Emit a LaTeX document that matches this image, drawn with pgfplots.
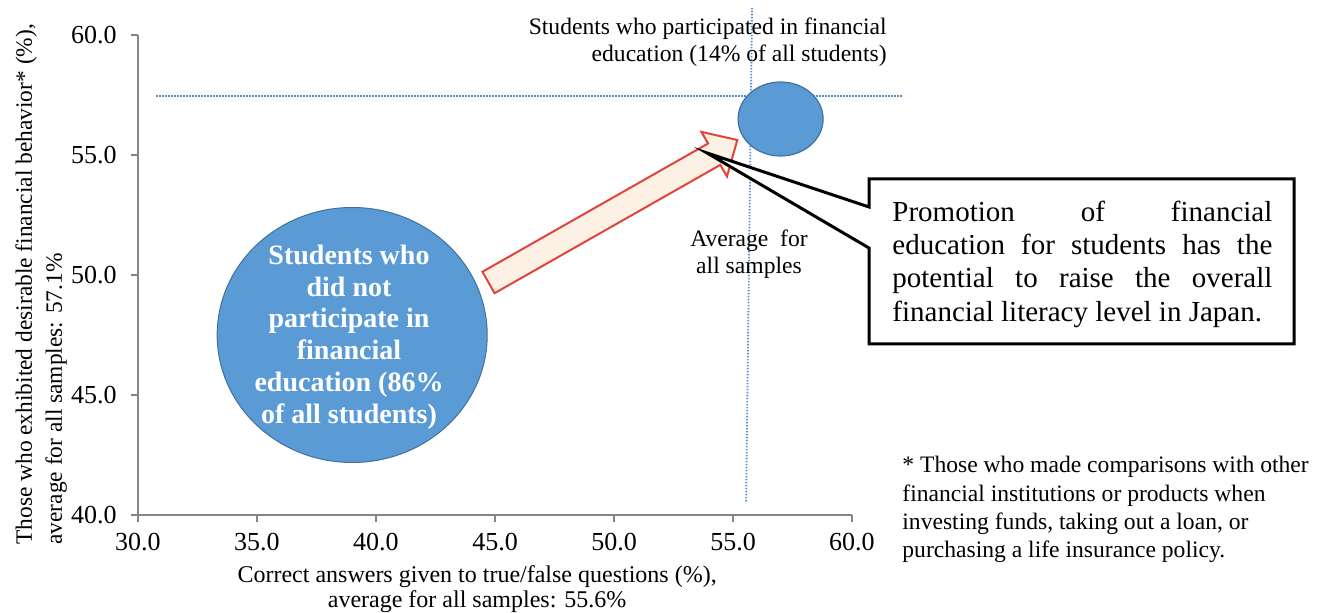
\documentclass[border=0pt]{standalone}
\usepackage{fontspec}
\setmainfont{Liberation Serif}
\usepackage{pgfplots}
\pgfplotsset{compat=1.18}
\definecolor{bubble}{HTML}{5B9BD5}
\definecolor{bubbleedge}{HTML}{41719C}
\definecolor{axisgray}{HTML}{868686}
\definecolor{avgblue}{HTML}{4F8FD3}
\definecolor{arrowfill}{HTML}{FDF0E4}
\definecolor{arrowedge}{HTML}{E0443C}
\begin{document}
\begin{tikzpicture}
\useasboundingbox (0,0) rectangle (658.5pt,306.5pt);
\begin{axis}[
  at={(69pt,49pt)}, anchor=south west,
  scale only axis, width=357pt, height=240pt,
  xmin=30, xmax=60, ymin=40, ymax=60,
  axis lines=left,
  axis line style={draw=axisgray, line width=1pt, -},
  xtick={30,35,40,45,50,55,60},
  ytick={40,45,50,55,60},
  tick align=outside,
  major tick length=3.5pt,
  tick style={draw=axisgray, line width=1pt},
  tick label style={font=\fontsize{13}{13}\selectfont, inner sep=0pt},
  xticklabel style={anchor=north, yshift=-5.5pt},
  yticklabel style={anchor=east, xshift=-7pt},
  /pgf/number format/fixed,
  /pgf/number format/fixed zerofill,
  /pgf/number format/precision=1,
  /pgf/number format/assume math mode=true,
  xlabel={Correct answers given to true/false questions (\%),\\average for all samples: 55.6\%},
  xlabel style={align=center, inner sep=0pt, font=\fontsize{12}{12.5}\selectfont,
    at={(axis description cs:0.475,-0.105)}, anchor=north},
  ylabel={Those who exhibited desirable financial behavior* (\%),\\average for all samples: 57.1\%},
  ylabel style={align=left, inner sep=0pt, font=\fontsize{11.7}{15}\selectfont,
    at={(axis description cs:-0.1723,-0.0625)}, anchor=north west},
  clip=false,
]
% average lines
\addplot[avgblue, line width=0.9pt, dash pattern=on 0.75pt off 0.75pt] coordinates {(30.76,57.46) (62.14,57.46)};
\addplot[avgblue, line width=0.9pt, dash pattern=on 0.75pt off 0.75pt] coordinates {(55.80,61.125) (55.55,40.5)};
% bubbles
\addplot[only marks, mark=*, mark size=63.75pt,
  mark options={xscale=1.059, fill=bubble, draw=bubbleedge, line width=0.5pt}]
  coordinates {(39.0,47.5)};
\addplot[only marks, mark=*, mark size=18.5pt,
  mark options={xscale=1.149, fill=bubble, draw=bubbleedge, line width=0.6pt}]
  coordinates {(57.0,56.5)};
\end{axis}
\begin{scope}[x=0.5pt, y=-0.5pt, yshift=306.5pt]
% arrow
\draw[arrowedge, line width=1pt, fill=arrowfill, line join=miter]
  (482.4,271.8) -- (708.1,143.5) -- (701.4,131.9) -- (737.3,140) -- (727.0,176.5) -- (720.3,164.9) -- (494.6,293.2) -- cycle;
% callout
\draw[black, line width=1.5pt, fill=white, line join=miter]
  (869,179) -- (1294,179) -- (1294,344) -- (869,344) -- (869,248) -- (707,153) -- (869,207) -- cycle;
\begin{scope}[every node/.style={inner sep=0pt, font=\fontsize{14.5}{16.7}\selectfont}]
\node[anchor=base west] at (892,222) {\makebox[190pt][s]{Promotion of financial}};
\node[anchor=base west] at (892,255) {\makebox[190pt][s]{education for students has the}};
\node[anchor=base west] at (892,288) {\makebox[190pt][s]{potential to raise the overall}};
\node[anchor=base west] at (892,322) {financial literacy level in Japan.};
\end{scope}
% bubble text
\begin{scope}[every node/.style={inner sep=0pt, text=white, font=\bfseries\fontsize{14}{16}\selectfont, anchor=base}]
\node at (349,265) {Students who};
\node at (349,297) {did not};
\node at (349,328) {participate in};
\node at (349,360) {financial};
\node at (349,392) {education (86\%};
\node at (349,424) {of all students)};
\end{scope}
% other annotations
\begin{scope}[every node/.style={inner sep=0pt, font=\fontsize{11.8}{13.5}\selectfont}]
\node[anchor=base east] at (887,35) {Students who participated in financial};
\node[anchor=base east] at (887,62) {education (14\% of all students)};
\node[anchor=base] at (749,247) {Average\ \ for};
\node[anchor=base] at (749,274) {all samples};
\end{scope}
\begin{scope}[every node/.style={inner sep=0pt, anchor=base west, font=\fontsize{11.8}{14}\selectfont}]
\node at (902,473) {* Those who made comparisons with other};
\node at (902,502) {financial\ institutions or products when};
\node at (902,530) {investing funds, taking out a loan, or};
\node at (902,558) {purchasing a life insurance policy.};
\end{scope}
\end{scope}
\end{tikzpicture}
\end{document}
